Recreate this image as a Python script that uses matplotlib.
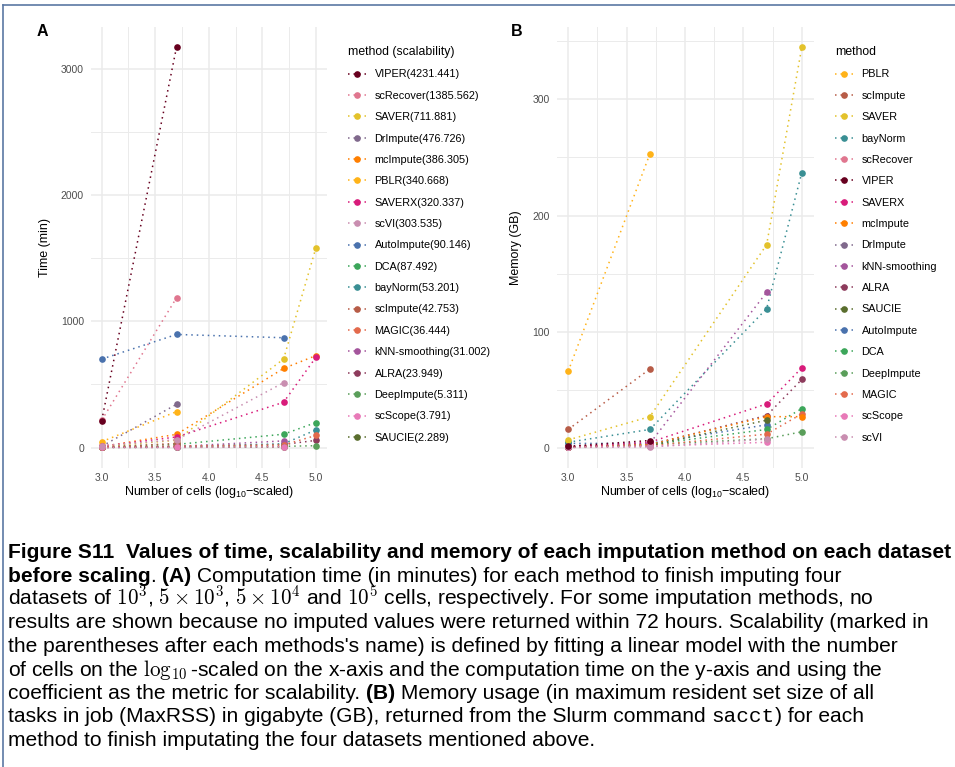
import numpy as np
import matplotlib
matplotlib.use('Agg')
import matplotlib.pyplot as plt
from matplotlib.lines import Line2D

nan = np.nan

# number of cells in the four datasets
cells = [1000, 5000, 50000, 100000]

# panel A : time (min), methods in legend order
methods_a = ['VIPER', 'scRecover', 'SAVER', 'DrImpute', 'mcImpute', 'PBLR', 'SAVERX', 'scVI',
             'AutoImpute', 'DCA', 'bayNorm', 'scImpute', 'MAGIC', 'kNN-smoothing', 'ALRA',
             'DeepImpute', 'scScope', 'SAUCIE']
scalability = [4231.441, 1385.562, 711.881, 476.726, 386.305, 340.668, 320.337, 303.535,
               90.146, 87.492, 53.201, 42.753, 36.444, 31.002, 23.949, 5.311, 3.791, 2.289]
colors_a = ['#67001f', '#e0768f', '#e3c22b', '#80698c', '#ff7f00', '#ffb319', '#d81b7a', '#c98eb0',
            '#4a72ad', '#3ca65a', '#3a8f94', '#b75c47', '#e36a4c', '#a4559c', '#8d3b5c',
            '#5a9e5a', '#e87ab8', '#5a6e2e']
time_1e3 = [214, 217, 10, 10, 8, 47, 11, 16, 701, 8, 2, 3, 2, 2, 2, 3, 1, 1]
time_5e3 = [3172, 1186, 58, 343, 105, 285, 84, 62, 896, 25, 10, 33, 12, 9, 8, 6, 2, 2]
time_5e4 = [nan, nan, 701, nan, 627, nan, 359, 514, 870, 106, 30, nan, 21, 53, 25, 10, 7, 5]
time_1e5 = [nan, nan, 1579, nan, 728, nan, 714, nan, nan, 198, 140, nan, 96, nan, 57, 15, nan, nan]

# panel B : memory (GB), methods in legend order
methods_b = ['PBLR', 'scImpute', 'SAVER', 'bayNorm', 'scRecover', 'VIPER', 'SAVERX', 'mcImpute',
             'DrImpute', 'kNN-smoothing', 'ALRA', 'SAUCIE', 'AutoImpute', 'DCA', 'DeepImpute',
             'MAGIC', 'scScope', 'scVI']
mem_1e3 = [66, 16, 7, 5, 1, 1.5, 1, 1, 1, 1, 1, 1, 4, 1, 1, 1, 0.5, 0.5]
mem_5e3 = [253, 68, 27, 16, 2, 6.5, 5, 3, 3, 4, 3, 2, 4, 3, 3, 2, 1.5, 1]
mem_5e4 = [nan, nan, 175, 120, nan, nan, 38, 27, nan, 134, 28, 24, 20, 16, 8, 12, 5, 7.7]
mem_1e5 = [nan, nan, 345, 237, nan, nan, 69, 27, nan, nan, 59, nan, nan, 34, 14, 29.5, nan, nan]

W, H = 955, 767
DOT = (0, (1, 2.6))
GRID = '#ebebeb'

plt.rcParams['font.family'] = ['Liberation Sans', 'DejaVu Sans']
plt.rcParams['mathtext.fontset'] = 'custom'
plt.rcParams['mathtext.rm'] = 'Liberation Sans'
plt.rcParams['mathtext.it'] = 'Liberation Sans:italic'

color_of = dict(zip(methods_a, colors_a))
# groups are drawn in alphabetical order, so later names sit on top
draw_rank = {m: i for i, m in enumerate(sorted(methods_a, key=str.lower))}
logx = np.log10(cells)

fig = plt.figure(figsize=(W / 100, H / 100), dpi=100)


def box(left, top, right, bottom):
    return [left / W, 1 - bottom / H, (right - left) / W, (bottom - top) / H]


def draw_panel(ax, methods, cols, yticks, yminor, ylabel):
    vals = np.array(cols, dtype=float).T
    for m, y in zip(methods, vals):
        ok = ~np.isnan(y)
        z = draw_rank[m] / 100
        ax.plot(logx[ok], y[ok], ls=DOT, lw=1.1, color=color_of[m], zorder=2 + z)
        ax.plot(logx[ok], y[ok], ls='none', marker='o', ms=4.8, mew=0,
                color=color_of[m], zorder=3 + z)
    lo, hi = np.nanmin(vals), np.nanmax(vals)
    pad = (hi - lo) * 0.05
    ax.set_ylim(lo - pad, hi + pad)
    ax.set_xlim(2.9, 5.1)
    ax.set_xticks([3.0, 3.5, 4.0, 4.5, 5.0])
    ax.set_xticklabels(['3.0', '3.5', '4.0', '4.5', '5.0'])
    ax.set_xticks([3.25, 3.75, 4.25, 4.75], minor=True)
    ax.set_yticks(yticks)
    ax.set_yticks(yminor, minor=True)
    ax.grid(which='major', color=GRID, lw=1.1)
    ax.grid(which='minor', color=GRID, lw=0.7)
    ax.set_axisbelow(True)
    for s in ax.spines.values():
        s.set_visible(False)
    ax.tick_params(which='both', length=0, labelsize=7.5, labelcolor='#4d4d4d')
    ax.tick_params(axis='y', pad=5)
    ax.tick_params(axis='x', pad=4)
    ax.set_xlabel('Number of cells (log$_{10}$\u2212scaled)', fontsize=9, labelpad=1)
    ax.set_ylabel(ylabel, fontsize=9)


def add_legend(ax, methods, labels, title, left, top):
    handles = [Line2D([], [], color=color_of[m], ls=DOT, lw=1.1, marker='o', ms=4.8, mew=0)
               for m in methods]
    leg = ax.legend(handles, labels, title=title, loc='upper left',
                    bbox_to_anchor=(left / W, 1 - top / H), bbox_transform=fig.transFigure,
                    frameon=False, fontsize=7.8, title_fontsize=8.8, borderpad=0,
                    handlelength=1.7, handletextpad=0.75, labelspacing=1.05,
                    alignment='left', borderaxespad=0)
    return leg


# panel A
axA = fig.add_axes(box(91, 27, 326.5, 467.5))
draw_panel(axA, methods_a, [time_1e3, time_5e3, time_5e4, time_1e5],
           [0, 1000, 2000, 3000], [500, 1500, 2500], 'Time (min)')
axA.yaxis.set_label_coords((51 - 91) / 235.5, 0.5)
labels_a = ['%s(%.3f)' % (m, s) for m, s in zip(methods_a, scalability)]
add_legend(axA, methods_a, labels_a, 'method (scalability)', 348, 46)

# panel B
axB = fig.add_axes(box(556.5, 27, 813.5, 467.5))
draw_panel(axB, methods_b, [mem_1e3, mem_5e3, mem_5e4, mem_1e5],
           [0, 100, 200, 300], [50, 150, 250, 350], 'Memory (GB)')
axB.yaxis.set_label_coords((521.5 - 556.5) / 257, 0.5)
add_legend(axB, methods_b, methods_b, 'method', 835, 46)

fig.text(37 / W, 1 - 32 / H, 'A', fontsize=11.5, fontweight='bold', va='center')
fig.text(511 / W, 1 - 32 / H, 'B', fontsize=11.5, fontweight='bold', va='center')

# outer frame (top and left edge visible)
fig.add_artist(Line2D([3 / W, 3 / W], [0, 1 - 5 / H], color='#5b78a3', lw=1.2))
fig.add_artist(Line2D([3 / W, 1], [1 - 5 / H, 1 - 5 / H], color='#5b78a3', lw=1.2))

# caption
CAP = ['Liberation Sans', 'DejaVu Sans']
renderer = fig.canvas.get_renderer()
B = {'fontweight': 'bold'}
N = {}
MONO = {'family': ['Liberation Mono', 'DejaVu Sans Mono']}
cap_lines = [
    [('Figure S11  Values of time, scalability and memory of each imputation method on each dataset', B)],
    [('before scaling', B), ('. ', N), ('(A)', B),
     (' Computation time (in minutes) for each method to finish imputing four', N)],
    [('datasets of $10^3$, $5\\times10^3$, $5\\times10^4$ and $10^5$ cells, respectively. '
      'For some imputation methods, no', N)],
    [('results are shown because no imputed values were returned within 72 hours. '
      'Scalability (marked in', N)],
    [("the parentheses after each methods's name) is defined by fitting a linear model "
      "with the number", N)],
    [('of cells on the $\\log_{10}$-scaled on the x-axis and the computation time on the '
      'y-axis and using the', N)],
    [('coefficient as the metric for scalability. ', N), ('(B)', B),
     (' Memory usage (in maximum resident set size of all', N)],
    [('tasks in job (MaxRSS) in gigabyte (GB), returned from the Slurm command ', N),
     ('sacct', MONO), (') for each', N)],
    [('method to finish imputating the four datasets mentioned above.', N)],
]


def seg_width(txt, size, kw):
    fam = kw.get('family', CAP)
    wt = kw.get('fontweight', 'normal')
    t = fig.text(0, 0, txt + '|', fontsize=size, family=fam, fontweight=wt, math_fontfamily='cm')
    t2 = fig.text(0, 0, '|', fontsize=size, family=fam, fontweight=wt)
    w = t.get_window_extent(renderer).width - t2.get_window_extent(renderer).width
    t.remove()
    t2.remove()
    return w


# size the caption so the first line spans the figure width like the reference
first_w = seg_width(cap_lines[0][0][0], 12, cap_lines[0][0][1])
cap_size = 12 * 940 / first_w


def caption_line(y, segs, x0=8):
    x = x0
    for txt, kw in segs:
        fig.text(x / W, 1 - y / H, txt, fontsize=cap_size, family=kw.get('family', CAP),
                 fontweight=kw.get('fontweight', 'normal'), math_fontfamily='cm',
                 va='baseline')
        x += seg_width(txt, cap_size, kw)


for i, segs in enumerate(cap_lines):
    caption_line(558 + 23.5 * i, segs)

fig.savefig('out.png', dpi=100)
